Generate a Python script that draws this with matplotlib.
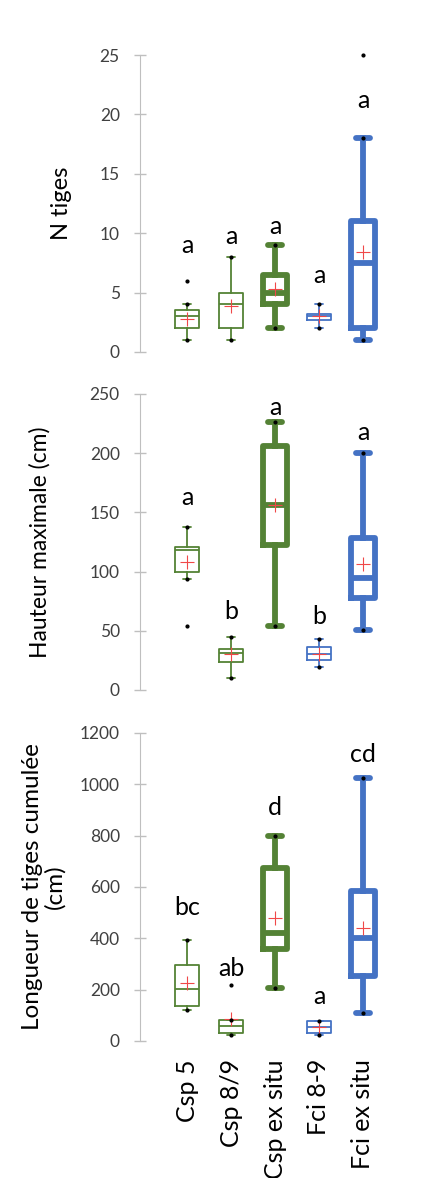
import matplotlib
matplotlib.use("Agg")
from matplotlib import pyplot as plt

plt.rcParams['font.family'] = ['Lato', 'DejaVu Sans']

categories = ["Csp 5", "Csp 8/9", "Csp ex situ", "Fci 8-9", "Fci ex situ"]

# N tiges
tiges_lo = [1, 1, 2, 2, 1]
tiges_q1 = [2, 2, 4, 2.7, 2]
tiges_med = [3, 4, 5, 3, 7.5]
tiges_q3 = [3.5, 5, 6.5, 3.2, 11]
tiges_hi = [4, 8, 9, 4, 18]
tiges_mean = [2.8, 3.9, 5.3, 3.0, 8.4]
tiges_out = [[6], [], [], [], [25]]
tiges_letters = ["a", "a", "a", "a", "a"]
tiges_letter_y = [8.3, 9.1, 9.9, 5.8, 20.5]

# Hauteur maximale (cm)
haut_lo = [94, 10, 54, 19, 51]
haut_q1 = [99.5, 24, 122, 25.5, 78]
haut_med = [118, 31, 156, 30.5, 94.5]
haut_q3 = [121, 34.5, 206, 36, 128]
haut_hi = [138, 45, 226, 43, 200]
haut_mean = [108, 30, 156, 30.5, 106]
haut_out = [[54], [], [], [], []]
haut_letters = ["a", "b", "a", "b", "a"]
haut_letter_y = [156, 60, 232, 56, 211]

# Longueur de tiges cumulée (cm)
long_lo = [120, 25, 208, 25, 109]
long_q1 = [135, 33, 357, 31, 252]
long_med = [204, 57, 422, 55, 400]
long_q3 = [295, 83, 673, 78, 584]
long_hi = [393, 83, 799, 78, 1024]
long_mean = [226, 87, 478, 55, 439]
long_out = [[], [217], [], [], []]
long_letters = ["bc", "ab", "d", "a", "cd"]
long_letter_y = [491, 252, 881, 143, 1085]

GREEN = "#548235"
BLUE = "#4472C4"
box_colors = [GREEN, GREEN, GREEN, BLUE, BLUE]
box_thick = [False, False, True, False, True]


def draw_panel(ax, lo, q1, med, q3, hi, mean, out, letters, letter_y):
    for i in range(len(categories)):
        stats = [dict(whislo=lo[i], q1=q1[i], med=med[i], q3=q3[i], whishi=hi[i],
                      mean=mean[i], fliers=out[i])]
        c = box_colors[i]
        lw = 4.2 if box_thick[i] else 1.3
        cw = 0.3 if box_thick[i] else 0.2
        ax.bxp(stats, positions=[i + 1], widths=0.55, capwidths=[cw],
               showmeans=True, showfliers=True,
               boxprops=dict(color=c, linewidth=lw),
               medianprops=dict(color=c, linewidth=lw),
               whiskerprops=dict(color=c, linewidth=lw),
               capprops=dict(color=c, linewidth=lw, solid_capstyle="round"),
               meanprops=dict(marker="+", markeredgecolor="#F04848", markersize=10,
                              markeredgewidth=0.8, linestyle="none"),
               flierprops=dict(marker="o", markerfacecolor="black", markeredgecolor="black",
                               markersize=2, linestyle="none"),
               manage_ticks=False)
        ax.plot([i + 1, i + 1], [lo[i], hi[i]], linestyle="none", marker="o",
                color="black", markersize=2, zorder=5)
        ax.text(i + 1, letter_y[i], letters[i], ha="center", va="baseline", fontsize=18)
        for line in ax.lines:
            line.set_clip_on(False)

    ax.set_xlim(-0.07, 6.07)
    for s in ["top", "right", "bottom"]:
        ax.spines[s].set_visible(False)
    ax.spines["left"].set_color("#BFBFBF")
    ax.tick_params(axis="y", direction="inout", length=9, width=1, color="#BFBFBF",
                   labelsize=12.5, labelcolor="#404040", pad=10)
    ax.tick_params(axis="x", length=0)


fig = plt.figure(figsize=(4.42, 11.78), dpi=100)

ax1 = fig.add_axes([0.3167, 0.7012, 0.611, 0.2521])
draw_panel(ax1, tiges_lo, tiges_q1, tiges_med, tiges_q3, tiges_hi, tiges_mean,
           tiges_out, tiges_letters, tiges_letter_y)
ax1.set_ylim(0, 25)
ax1.set_yticks([0, 5, 10, 15, 20, 25])
ax1.set_xticks([])
ax1.set_ylabel("N tiges", fontsize=17)
ax1.yaxis.set_label_coords(-0.25, 0.5)

ax2 = fig.add_axes([0.3167, 0.4143, 0.611, 0.2513])
draw_panel(ax2, haut_lo, haut_q1, haut_med, haut_q3, haut_hi, haut_mean,
           haut_out, haut_letters, haut_letter_y)
ax2.set_ylim(0, 250)
ax2.set_yticks([0, 50, 100, 150, 200, 250])
ax2.set_xticks([])
ax2.set_ylabel("Hauteur maximale (cm)", fontsize=16.5)
ax2.yaxis.set_label_coords(-0.33, 0.5)

ax3 = fig.add_axes([0.3167, 0.1163, 0.611, 0.2615])
draw_panel(ax3, long_lo, long_q1, long_med, long_q3, long_hi, long_mean,
           long_out, long_letters, long_letter_y)
ax3.set_ylim(0, 1200)
ax3.set_yticks([0, 200, 400, 600, 800, 1000, 1200])
ax3.set_xticks(range(1, len(categories) + 1))
ax3.set_xticklabels(categories, rotation=90, fontsize=18)
ax3.tick_params(axis="x", pad=13)
ax3.set_ylabel("Longueur de tiges cumulée\n(cm)", fontsize=17.5, linespacing=1.05)
ax3.yaxis.set_label_coords(-0.275, 0.5)

fig.savefig("out.png", dpi=100)
